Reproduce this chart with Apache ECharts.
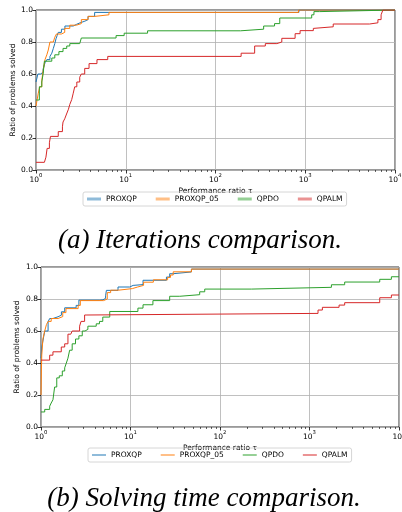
<!DOCTYPE html>
<html>
<head>
<meta charset="utf-8">
<script src="https://cdn.jsdelivr.net/npm/echarts@6/dist/echarts.min.js"></script>
<style>
  html, body { margin: 0; padding: 0; background: #fff; }
  .chart { width: 402px; height: 512px; }
</style>
</head>
<body>
<div class="chart"></div>
<script>
// (a) 迭代次数对比  [tau, ratio]
var proxqpA = [[1,0.55],[1.05,0.6],[1.12,0.61],[1.2,0.63],[1.26,0.67],[1.32,0.69],[1.43,0.71],[1.5,0.73],[1.56,0.76],[1.62,0.79],[1.67,0.82],[1.72,0.84],[1.77,0.86],[1.92,0.88],[2.1,0.9],[2.6,0.91],[2.82,0.92],[3.1,0.93],[3.5,0.94],[3.8,0.96],[4.5,0.985],[850,1],[10000,1]];
var proxqp05A = [[1,0.4],[1.03,0.44],[1.06,0.48],[1.1,0.52],[1.16,0.56],[1.2,0.62],[1.26,0.69],[1.32,0.72],[1.37,0.75],[1.43,0.8],[1.56,0.81],[1.62,0.83],[1.69,0.85],[1.92,0.86],[2.09,0.885],[2.38,0.905],[2.82,0.915],[3.2,0.94],[3.8,0.96],[4.5,0.97],[6.5,0.985],[840,1],[10000,1]];
var qpdoA = [[1,0.4375],[1.09,0.52],[1.16,0.55],[1.2,0.6],[1.24,0.68],[1.5,0.7],[1.62,0.72],[1.8,0.74],[2.0,0.76],[2.2,0.775],[2.38,0.79],[3.07,0.8],[3.2,0.825],[7.8,0.84],[9.6,0.855],[17.5,0.87],[190,0.88],[344,0.9],[455,0.915],[520,0.95],[1180,0.97],[1250,0.99],[1450,1],[10000,1]];
var qpalmA = [[1,0.048],[1.24,0.06],[1.29,0.08],[1.33,0.135],[1.41,0.17],[1.45,0.21],[1.77,0.24],[1.97,0.27],[2.0,0.3],[2.09,0.32],[2.19,0.35],[2.3,0.38],[2.38,0.41],[2.5,0.44],[2.6,0.48],[2.7,0.52],[2.85,0.55],[3.07,0.58],[3.2,0.6],[3.49,0.635],[3.9,0.665],[4.78,0.69],[6.3,0.71],[193,0.73],[273,0.775],[359,0.79],[483,0.8],[548,0.823],[771,0.852],[876,0.871],[1230,0.885],[1284,0.895],[2050,0.9125],[5210,0.92],[6450,0.94],[7000,0.97],[7330,1],[10000,1]];

// (b) 求解时间对比
var proxqpB = [[1,0.43],[1.02,0.5],[1.05,0.537],[1.1,0.6],[1.2,0.658],[1.25,0.678],[1.36,0.689],[1.55,0.699],[1.69,0.72],[1.84,0.745],[2.47,0.76],[2.65,0.793],[4.53,0.795],[4.91,0.804],[5.27,0.82],[5.38,0.854],[7.25,0.875],[9.8,0.885],[10.7,0.89],[13.8,0.917],[25.2,0.937],[27.4,0.958],[29.9,0.969],[47.9,0.987],[10000,0.987]];
var proxqp05B = [[1,0.2],[1.01,0.35],[1.02,0.45],[1.05,0.55],[1.1,0.6],[1.15,0.64],[1.2,0.66],[1.3,0.678],[1.55,0.69],[1.75,0.715],[1.9,0.74],[2.6,0.76],[2.75,0.79],[5.0,0.8],[5.5,0.84],[6.0,0.855],[7.3,0.865],[10.5,0.875],[12,0.885],[14,0.905],[18,0.92],[26,0.935],[28,0.95],[30,0.97],[48,0.987],[10000,0.987]];
var qpdoB = [[1,0.094],[1.1,0.11],[1.25,0.13],[1.3,0.15],[1.36,0.17],[1.42,0.25],[1.5,0.307],[1.6,0.32],[1.73,0.35],[1.84,0.37],[1.92,0.4],[2.0,0.43],[2.09,0.48],[2.23,0.52],[2.43,0.55],[2.65,0.57],[2.89,0.6],[3.1,0.61],[3.34,0.63],[4.14,0.645],[4.5,0.66],[4.9,0.687],[5.86,0.722],[12.1,0.743],[13.8,0.764],[17.8,0.79],[27.4,0.817],[35.5,0.827],[59.3,0.845],[67.5,0.862],[224,0.873],[1757,0.889],[2472,0.906],[6090,0.923],[8220,0.939],[10000,0.939]];
var qpalmB = [[1,0.418],[1.25,0.449],[1.36,0.47],[1.685,0.5],[1.84,0.52],[2.0,0.58],[2.15,0.59],[2.23,0.6],[2.7,0.63],[2.8,0.66],[3.07,0.7],[3.26,0.71],[1245,0.731],[1393,0.748],[2140,0.762],[2472,0.777],[6090,0.808],[8220,0.825],[10000,0.825]];

var names = ['PROXQP', 'PROXQP_05', 'QPDO', 'QPALM'];
var colors = ['#1f77b4', '#ff7f0e', '#2ca02c', '#d62728'];
var xMajor = [1, 10, 100, 1000, 10000];
var xMinor = [];
xMajor.slice(0, 4).forEach(function(d) { //每个十进制的次刻度 2..9
  for (var k = 2; k < 10; k++) xMinor.push(d * k);
});
var captions = ['(a) Iterations comparison.', '(b) Solving time comparison.'];

var font = 'DejaVu Sans';
var grids = [
  { left: 36, top: 10, width: 359, height: 160 },
  { left: 41, top: 267, width: 358, height: 160 }
];

var myChart = echarts.init(document.querySelector('.chart'));

function xAxisPair(gi) {
  return [{
    type: 'log', logBase: 10, gridIndex: gi, min: 1, max: 10000, position: 'bottom',
    name: 'Performance ratio τ', nameLocation: 'middle', nameGap: 17, nameMoveOverlap: false,
    nameTextStyle: { color: '#000', fontSize: 7.5, fontFamily: font },
    axisLine: { show: false },
    axisTick: { show: true, length: 3.5, customValues: xMajor, lineStyle: { color: '#000', width: 0.8 } },
    axisLabel: {
      customValues: xMajor, color: '#000', margin: 3,
      formatter: function(v) { return '{b|10}{s|' + Math.round(Math.log10(v)) + '}'; },
      rich: {
        b: { fontSize: 7.5, fontFamily: font, color: '#000', lineHeight: 11, verticalAlign: 'bottom' },
        s: { fontSize: 5.3, fontFamily: font, color: '#000', lineHeight: 6, verticalAlign: 'top' }
      }
    },
    splitLine: { show: true, lineStyle: { color: '#b0b0b0', width: 0.8 } }
  }, {
    //次刻度
    type: 'log', logBase: 10, gridIndex: gi, min: 1, max: 10000, position: 'bottom',
    axisLine: { show: false }, axisLabel: { show: false }, splitLine: { show: false },
    axisTick: { show: true, length: 2, customValues: xMinor, lineStyle: { color: '#000', width: 0.6 } }
  }];
}

function yAxisOne(gi, gap) {
  return {
    type: 'value', gridIndex: gi, min: 0, max: 1, interval: 0.2,
    name: 'Ratio of problems solved', nameLocation: 'middle', nameGap: gap, nameMoveOverlap: false,
    nameTextStyle: { color: '#000', fontSize: 7.5, fontFamily: font },
    axisLine: { show: false },
    axisTick: { show: true, length: 3.5, lineStyle: { color: '#000', width: 0.8 } },
    axisLabel: { color: '#000', fontSize: 7.5, fontFamily: font, margin: 3,
      formatter: function(v) { return v.toFixed(1); } },
    splitLine: { show: true, lineStyle: { color: '#b0b0b0', width: 0.8 } }
  };
}

var dataA = [proxqpA, proxqp05A, qpdoA, qpalmA];
var dataB = [proxqpB, proxqp05B, qpdoB, qpalmB];
var series = [];
[dataA, dataB].forEach(function(set, gi) {
  set.forEach(function(d, i) {
    series.push({
      name: names[i], type: 'line', step: 'end', showSymbol: false, symbol: 'none',
      xAxisIndex: gi * 2, yAxisIndex: gi, data: d,
      lineStyle: { color: colors[i], width: 1 }, itemStyle: { color: colors[i] },
      animation: false
    });
  });
});

var legendBase = {
  data: names, icon: 'rect', itemWidth: 14, itemGap: 19,
  padding: [3, 4, 3, 4], borderColor: '#cccccc', borderWidth: 0.8, borderRadius: 2,
  textStyle: { color: '#000', fontSize: 7.5, fontFamily: font }
};

var option = {
  backgroundColor: '#fff',
  animation: false,
  color: colors,
  grid: grids.map(function(g) {
    return Object.assign({ show: true, borderColor: '#000', borderWidth: 0.8, backgroundColor: 'transparent',
      containLabel: false, outerBoundsMode: 'none' }, g);
  }),
  xAxis: xAxisPair(0).concat(xAxisPair(1)),
  yAxis: [yAxisOne(0, 18.5), yAxisOne(1, 19.5)],
  legend: [
    Object.assign({}, legendBase, { left: 83, top: 192, itemHeight: 3, itemStyle: { opacity: 0.5 } }),
    Object.assign({}, legendBase, { left: 88, top: 448, itemHeight: 1 })
  ],
  graphic: [
    { type: 'text', x: 200, y: 241, style: { text: captions[0], fill: '#000', textAlign: 'center', textVerticalAlign: 'middle',
      font: 'italic 27px "Liberation Serif", "DejaVu Serif", serif' } },
    { type: 'text', x: 204, y: 499, style: { text: captions[1], fill: '#000', textAlign: 'center', textVerticalAlign: 'middle',
      font: 'italic 27px "Liberation Serif", "DejaVu Serif", serif' } }
  ],
  series: series
};

myChart.setOption(option);
window.addEventListener("resize", function() {
  myChart.resize();
});
</script>
</body>
</html>
